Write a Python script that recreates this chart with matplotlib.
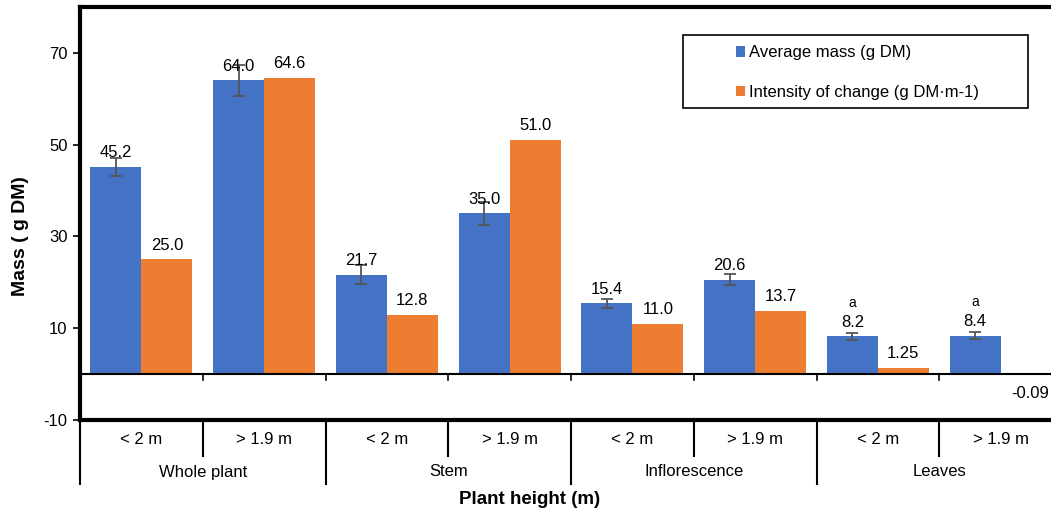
import matplotlib
matplotlib.use("Agg")
import matplotlib.pyplot as plt
import numpy as np
from matplotlib.patches import Rectangle, Patch

plt.rcParams['font.family'] = ['Liberation Sans', 'DejaVu Sans']

groups = ["Whole plant", "Stem", "Inflorescence", "Leaves"]
subcats = ["< 2 m", "> 1.9 m"]
avg_mass = [45.2, 64.0, 21.7, 35.0, 15.4, 20.6, 8.2, 8.4]
avg_err = [2.0, 3.4, 2.0, 2.6, 1.0, 1.2, 0.8, 0.8]
avg_labels = ["45.2", "64.0", "21.7", "35.0", "15.4", "20.6", "8.2", "8.4"]
intensity = [25.0, 64.6, 12.8, 51.0, 11.0, 13.7, 1.25, -0.09]
int_labels = ["25.0", "64.6", "12.8", "51.0", "11.0", "13.7", "1.25", "-0.09"]
letters = ["", "", "", "", "", "", "a", "a"]
yticks = [-10, 10, 30, 50, 70]

blue = "#4472C4"
orange = "#ED7D31"
FS = 12

fig = plt.figure(figsize=(10.51, 5.14), dpi=100)
ax = fig.add_axes([80/1051, 1-420/514, (1062-80)/1051, (420-7)/514])

n = len(avg_mass)
x = np.arange(n)
w = 0.415
ax.bar(x - w/2, avg_mass, w, color=blue, zorder=2)
ax.bar(x + w/2, intensity, w, color=orange, zorder=2)
ax.errorbar(x - w/2, avg_mass, yerr=avg_err, fmt='none', ecolor='#555555',
            elinewidth=1.3, capsize=4, capthick=1.3, zorder=3)

ax.set_xlim(-0.5, n - 0.5)
ax.set_ylim(-10, 80)
ax.set_yticks(yticks)
ax.set_yticklabels([str(t) for t in yticks])
ax.tick_params(axis='y', labelsize=FS, length=5, width=1.2, direction='out', pad=4)
ax.set_xticks([])

for s in ['left', 'top', 'bottom']:
    ax.spines[s].set_linewidth(3)
ax.spines['right'].set_visible(False)

# zero line with small ticks
ax.axhline(0, color='black', lw=1.5, zorder=4)
for b in np.arange(n + 1) - 0.5:
    ax.plot([b, b], [0, -1.2], color='black', lw=1.2, clip_on=False, zorder=4)

# value labels
for i in range(n):
    ax.text(x[i] - w/2, avg_mass[i] + 1.5, avg_labels[i], ha='center', va='bottom', fontsize=FS, zorder=5)
    if letters[i]:
        ax.text(x[i] - w/2, avg_mass[i] + 5.8, letters[i], ha='center', va='bottom', fontsize=10, zorder=5)
    if intensity[i] >= 0:
        ax.text(x[i] + w/2, intensity[i] + 1.5, int_labels[i], ha='center', va='bottom', fontsize=FS, zorder=5)
    else:
        ax.text(x[i] + w/2 + 0.03, intensity[i] - 2.4, int_labels[i], ha='center', va='top', fontsize=FS, zorder=5)

# category table below axis
trans = ax.get_xaxis_transform()
def yfrac(pix_below):
    return -pix_below / 413.0

for i in range(n):
    ax.text(x[i], yfrac(20), subcats[i % 2], transform=trans, ha='center', va='center', fontsize=FS)
for g in range(len(groups)):
    ax.text(2*g + 0.5, yfrac(52), groups[g], transform=trans, ha='center', va='center', fontsize=FS)
for b in range(n + 1):
    xb = b - 0.5
    length = 64 if b % 2 == 0 else 36
    ax.plot([xb, xb], [0, yfrac(length)], transform=trans, color='black', lw=1.5, clip_on=False)

fig.text(530/1051, 1 - 500/514, "Plant height (m)", ha='center', va='center', fontsize=13.5, fontweight='bold')
fig.text(21/1051, 1 - 236/514, "Mass ( g DM)", ha='center', va='center', rotation=90, fontsize=14, fontweight='bold')

# legend: frame + entries
fig.patches.append(Rectangle((683/1051, 1 - 108/514), (1028-683)/1051, (108-35)/514,
                             transform=fig.transFigure, facecolor='white', edgecolor='black',
                             lw=1.2, zorder=10))
handles = [Patch(facecolor=blue, label="Average mass (g DM)"),
           Patch(facecolor=orange, label="Intensity of change (g DM\u00b7m-1)")]
leg = fig.legend(handles=handles, loc='center left', bbox_to_anchor=(736/1051, 1 - 72.5/514),
                 fontsize=FS, frameon=False,
                 handlelength=0.55, handleheight=0.55, handletextpad=0.25, borderpad=0,
                 labelspacing=1.45, borderaxespad=0)
leg.set_zorder(11)

fig.savefig("out.png", dpi=100)
